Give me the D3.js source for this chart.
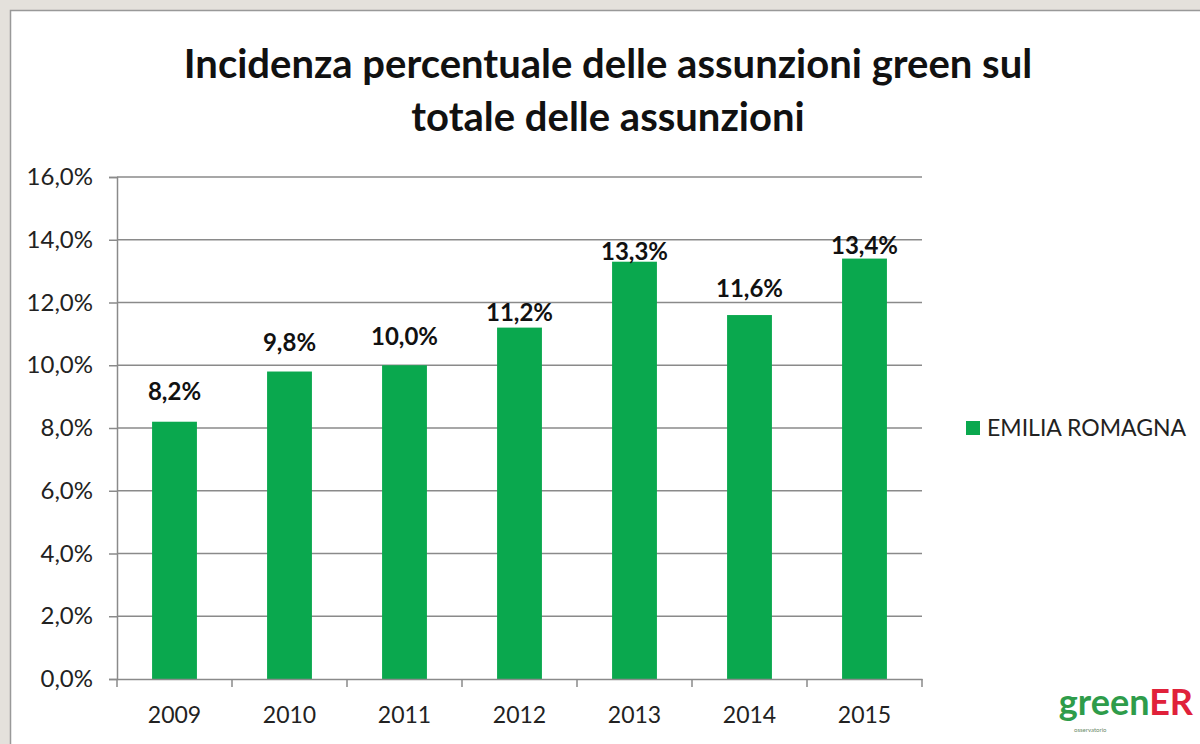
<!DOCTYPE html>
<html>
<head>
<meta charset="utf-8">
<script src="https://cdn.jsdelivr.net/npm/d3@7"></script>
<style>
  html, body { margin: 0; padding: 0; background: #e4e1dc; }
  svg { display: block; }
</style>
</head>
<body>
<svg id="svg-area"></svg>
<script>
/* data */
let years = ["2009", "2010", "2011", "2012", "2013", "2014", "2015"];
let values = [8.2, 9.8, 10.0, 11.2, 13.3, 11.6, 13.4];
let yTicks = [0, 2, 4, 6, 8, 10, 12, 14, 16];
let seriesName = "EMILIA ROMAGNA";
let titleLines = ["Incidenza percentuale delle assunzioni green sul", "totale delle assunzioni"];

/* labels were moved by hand in the original: gap (px) above each bar */
let labelGap = [22, 21, 20, 7, 2, 18, 5];

let margin = {
    left: 117,
    right: 278,
    bottom: 65,
    top: 177,
};

let width = 1200;
let height = 744;
let green = "#0aa84e";
let font = "Lato, 'Open Sans', sans-serif";

let svg = d3.select("#svg-area")
  .attr("width", width)
  .attr("height", height);

/* panel */
svg.append("rect")
  .attr("x", 10.5).attr("y", 10.5)
  .attr("width", width + 10).attr("height", height + 10)
  .attr("fill", "#fff")
  .attr("stroke", "#999")
  .attr("stroke-width", 1.5);

/* scales */
let xScale = d3.scaleBand()
  .domain(years)
  .range([margin.left, width - margin.right])
  .padding(0);
let yScale = d3.scaleLinear()
  .domain([0, 16])
  .range([height - margin.bottom, margin.top]);

let fmt = v => d3.format(".1f")(v).replace(".", ",") + "%";

/* y axis + gridlines */
let yAxis = svg.append("g")
  .attr("class", "y_axis")
  .attr("transform", "translate(" + margin.left + ",0)")
  .call(
    d3.axisLeft(yScale)
      .tickValues(yTicks)
      .tickSize(8)
      .tickPadding(16)
      .tickFormat(fmt)
  );
yAxis.select(".domain").attr("stroke", "#8a8a8a").attr("stroke-width", 1.5);
yAxis.selectAll(".tick line").attr("stroke", "#8a8a8a").attr("stroke-width", 1.5);
yAxis.selectAll(".tick text")
  .attr("font-family", font).attr("font-size", 24).attr("fill", "#222");

svg.append("g")
  .attr("class", "grid")
  .selectAll("line")
  .data(yTicks.filter(d => d > 0))
  .join("line")
  .attr("x1", margin.left)
  .attr("x2", width - margin.right)
  .attr("y1", d => yScale(d))
  .attr("y2", d => yScale(d))
  .attr("stroke", "#8a8a8a")
  .attr("stroke-width", 1.5);

/* bars */
let barW = xScale.bandwidth() * 0.39;
svg.append("g")
  .selectAll("rect")
  .data(values)
  .join("rect")
  .attr("x", (d, i) => xScale(years[i]) + (xScale.bandwidth() - barW) / 2)
  .attr("y", d => yScale(d))
  .attr("width", barW)
  .attr("height", d => yScale(0) - yScale(d))
  .attr("fill", green);

/* x axis, ticks on category boundaries */
let xAxis = svg.append("g")
  .attr("class", "x_axis")
  .attr("transform", "translate(0," + (height - margin.bottom) + ")")
  .call(
    d3.axisBottom(xScale)
      .tickSize(0)
      .tickPadding(28)
  );
xAxis.select(".domain").attr("stroke", "#8a8a8a").attr("stroke-width", 1.5);
xAxis.selectAll(".tick text")
  .attr("font-family", font).attr("font-size", 23).attr("fill", "#222");
xAxis.selectAll(".bound")
  .data(years.concat(["end"]))
  .join("line")
  .attr("class", "bound")
  .attr("x1", (d, i) => i < years.length ? xScale(d) : xScale(years[i - 1]) + xScale.bandwidth())
  .attr("x2", (d, i) => i < years.length ? xScale(d) : xScale(years[i - 1]) + xScale.bandwidth())
  .attr("y1", 0).attr("y2", 8)
  .attr("stroke", "#8a8a8a")
  .attr("stroke-width", 1.5);

/* data labels */
svg.append("g")
  .selectAll("text")
  .data(values)
  .join("text")
  .attr("x", (d, i) => xScale(years[i]) + xScale.bandwidth() / 2)
  .attr("y", (d, i) => yScale(d) - labelGap[i])
  .attr("text-anchor", "middle")
  .attr("font-family", font)
  .attr("font-weight", "bold")
  .attr("font-size", 24)
  .attr("fill", "#111")
  .text(fmt);

/* title */
svg.append("g")
  .selectAll("text")
  .data(titleLines)
  .join("text")
  .attr("x", 608)
  .attr("y", (d, i) => 78 + i * 53)
  .attr("text-anchor", "middle")
  .attr("font-family", font)
  .attr("font-weight", "bold")
  .attr("font-size", 40)
  .attr("fill", "#111")
  .text(d => d);

/* legend */
let legend = svg.append("g").attr("transform", "translate(966," + yScale(8) + ")");
legend.append("rect")
  .attr("x", 0).attr("y", -7)
  .attr("width", 14).attr("height", 14)
  .attr("fill", green);
legend.append("text")
  .attr("x", 21).attr("y", 8)
  .attr("font-family", font)
  .attr("font-size", 23)
  .attr("fill", "#222")
  .text(seriesName);

/* logo */
let logo = svg.append("text")
  .attr("x", 1193).attr("y", 715)
  .attr("text-anchor", "end")
  .attr("font-family", font)
  .attr("font-weight", "bold")
  .attr("font-size", 36);
logo.append("tspan").attr("fill", "#2e9c4a").text("green");
logo.append("tspan").attr("fill", "#e0213a").text("ER");
svg.append("text")
  .attr("x", 1074).attr("y", 732)
  .attr("font-family", font)
  .attr("font-size", 6)
  .attr("fill", "#6a8a6a")
  .text("osservatorio");
</script>
</body>
</html>
